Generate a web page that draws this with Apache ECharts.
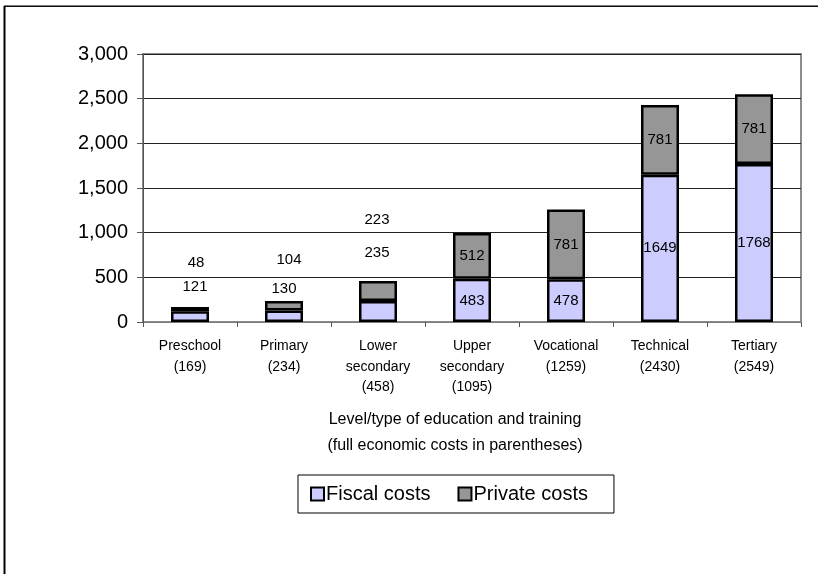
<!DOCTYPE html>
<html>
<head>
<meta charset="utf-8">
<script src="https://cdn.jsdelivr.net/npm/echarts@6/dist/echarts.min.js"></script>
<style>
  html, body { margin: 0; padding: 0; background: #fff; }
  #chart { width: 818px; height: 574px; }
</style>
</head>
<body>
<div id="chart"></div>
<script>
// Cost per student by level of education, split into fiscal and private shares
const categories = [
  'Preschool\n(169)',
  'Primary\n(234)',
  'Lower\nsecondary\n(458)',
  'Upper\nsecondary\n(1095)',
  'Vocational\n(1259)',
  'Technical\n(2430)',
  'Tertiary\n(2549)'
];
const fiscalCosts = [121, 130, 235, 483, 478, 1649, 1768];
const privateCosts = [48, 104, 223, 512, 781, 781, 781];
const yTicks = { min: 0, max: 3000, interval: 500 };

// Label nudges (px) for the short bars whose values sit above the bar
const fiscalLabelShift = [[5, -30], [0, -27], [-1, -59], null, null, null, null];
const privateLabelShift = [[6, -46], [5, -46], [-1, -71], null, null, null, null];

const SANS = '"Liberation Sans", Arial, sans-serif';

function buildData(values, shifts) {
  return values.map((v, i) => {
    const item = { value: v };
    if (shifts[i]) item.label = { offset: shifts[i] };
    return item;
  });
}

const barLabel = {
  show: true,
  position: 'inside',
  color: '#000',
  fontFamily: SANS,
  fontSize: 15
};

const chart = echarts.init(document.getElementById('chart'), null, { renderer: 'canvas' });

chart.setOption({
  animation: false,
  backgroundColor: '#fff',
  grid: {
    left: 143, right: 17, top: 54, bottom: 252,
    show: true, borderColor: '#8c8c8c', borderWidth: 2, backgroundColor: 'transparent'
  },
  title: {
    text: 'Level/type of education and training\n(full economic costs in parentheses)',
    left: 450, top: 402, textAlign: 'center',
    textStyle: { fontFamily: SANS, fontSize: 16, fontWeight: 'normal', color: '#000', lineHeight: 26 }
  },
  legend: {
    left: 298, top: 475,
    padding: [9, 26, 9, 12],
    borderColor: '#000', borderWidth: 1,
    itemWidth: 13, itemHeight: 13, itemGap: 27,
    icon: 'rect',
    itemStyle: { borderColor: '#000', borderWidth: 2 },
    textStyle: { fontFamily: SANS, fontSize: 20, color: '#000', padding: [0, 0, 0, -3] },
    data: ['Fiscal costs', 'Private costs']
  },
  xAxis: {
    type: 'category',
    data: categories,
    axisLine: { lineStyle: { color: '#7a7a7a', width: 1 } },
    axisTick: { show: true, length: 5, lineStyle: { color: '#555' } },
    axisLabel: {
      interval: 0, margin: 14, color: '#000',
      fontFamily: SANS, fontSize: 14, lineHeight: 20.5
    }
  },
  yAxis: {
    type: 'value',
    min: yTicks.min, max: yTicks.max, interval: yTicks.interval,
    axisLine: { show: true, lineStyle: { color: '#555', width: 1 } },
    axisTick: { show: true, length: 6, lineStyle: { color: '#555' } },
    axisLabel: {
      color: '#000', fontFamily: SANS, fontSize: 20, margin: 15,
      formatter: v => v.toLocaleString('en-US')
    },
    splitLine: { lineStyle: { color: '#222', width: 1 } }
  },
  series: [
    {
      name: 'Fiscal costs',
      type: 'bar',
      stack: 'cost',
      barWidth: 38,
      data: buildData(fiscalCosts, fiscalLabelShift),
      itemStyle: { color: '#ccccff', borderColor: '#000', borderWidth: 2.5 },
      label: barLabel
    },
    {
      name: 'Private costs',
      type: 'bar',
      stack: 'cost',
      barWidth: 38,
      data: buildData(privateCosts, privateLabelShift),
      itemStyle: { color: '#969696', borderColor: '#000', borderWidth: 2.5 },
      label: barLabel
    }
  ],
  graphic: [
    { type: 'line', shape: { x1: 4, y1: 5.5, x2: 818, y2: 5.5 }, style: { stroke: '#7a7a7a', lineWidth: 1 } },
    { type: 'line', shape: { x1: 4, y1: 6.5, x2: 818, y2: 6.5 }, style: { stroke: '#111', lineWidth: 1 } },
    { type: 'line', shape: { x1: 4.5, y1: 6, x2: 4.5, y2: 574 }, style: { stroke: '#000', lineWidth: 2 } }
  ]
});
</script>
</body>
</html>
